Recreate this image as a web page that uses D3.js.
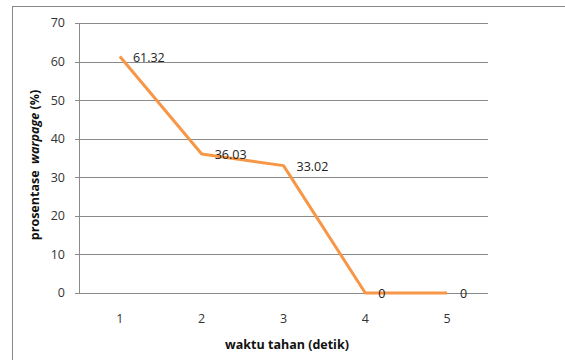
<!DOCTYPE html>
<html><head><meta charset="utf-8">
<script src="https://cdn.jsdelivr.net/npm/d3@7"></script>
<style>body{margin:0;background:#fff}svg{display:block}</style>
</head><body>
<svg id="c" width="565" height="360"></svg>
<script>
const categories = ["1","2","3","4","5"];
const values = [61.32, 36.03, 33.02, 0, 0];
const labels = ["61.32","36.03","33.02","0","0"];
const yTicks = [0,10,20,30,40,50,60,70];
const xTitle = "waktu tahan (detik)";

const svg = d3.select("#c");
const font = "'Open Sans', sans-serif";
const fs = 12.5;
const L=79, R=488, T=23, B=293;

svg.append("rect").attr("x",12.5).attr("y",6.5).attr("width",600).attr("height",400)
  .attr("fill","#fff").attr("stroke","#888").attr("stroke-width",1);

const x = d3.scaleBand().domain(categories).range([L,R]);
const y = d3.scaleLinear().domain([0,70]).range([B,T]);

const g = svg.append("g");
g.selectAll("line.grid").data(yTicks).join("line")
  .attr("x1",L-4).attr("x2",R).attr("y1",d=>Math.round(y(d))+0.5).attr("y2",d=>Math.round(y(d))+0.5)
  .attr("stroke","#8a8a8a").attr("stroke-width",1);
g.append("line").attr("x1",L+0.5).attr("x2",L+0.5).attr("y1",T).attr("y2",B+0.5)
  .attr("stroke","#8a8a8a");

g.selectAll("text.yt").data(yTicks).join("text")
  .attr("x",L-14).attr("y",d=>y(d)).attr("dy","0.35em").attr("text-anchor","end")
  .attr("font-family",font).attr("font-size",fs).attr("fill","#333").text(d=>d);

g.selectAll("text.xt").data(categories).join("text")
  .attr("x",d=>x(d)+x.bandwidth()/2).attr("y",319).attr("dy","0.35em").attr("text-anchor","middle")
  .attr("font-family",font).attr("font-size",fs).attr("fill","#333").text(d=>d);

const line = d3.line().x((d,i)=>x(categories[i])+x.bandwidth()/2).y(d=>y(d));
g.append("path").datum(values).attr("d",line).attr("fill","none")
  .attr("stroke","#F79646").attr("stroke-width",3).attr("stroke-linejoin","round");

g.selectAll("text.lab").data(values).join("text")
  .attr("x",(d,i)=>x(categories[i])+x.bandwidth()/2+13).attr("y",d=>y(d)+1).attr("dy","0.35em")
  .attr("font-family",font).attr("font-size",fs).attr("fill","#222").text((d,i)=>labels[i]);

svg.append("text").attr("x",287).attr("y",345).attr("dy","0.35em").attr("text-anchor","middle")
  .attr("font-family",font).attr("font-size",fs).attr("font-weight","bold").attr("fill","#111").text(xTitle);

const yt = svg.append("text").attr("transform","translate(35,165) rotate(-90)").attr("dy","0.35em")
  .attr("text-anchor","middle").attr("font-family",font).attr("font-size",fs).attr("font-weight","bold").attr("fill","#111")
  .attr("xml:space","preserve");
yt.append("tspan").text("prosentase  ");
yt.append("tspan").attr("font-style","italic").text("warpage");
yt.append("tspan").text(" (%)");
</script>
</body></html>
